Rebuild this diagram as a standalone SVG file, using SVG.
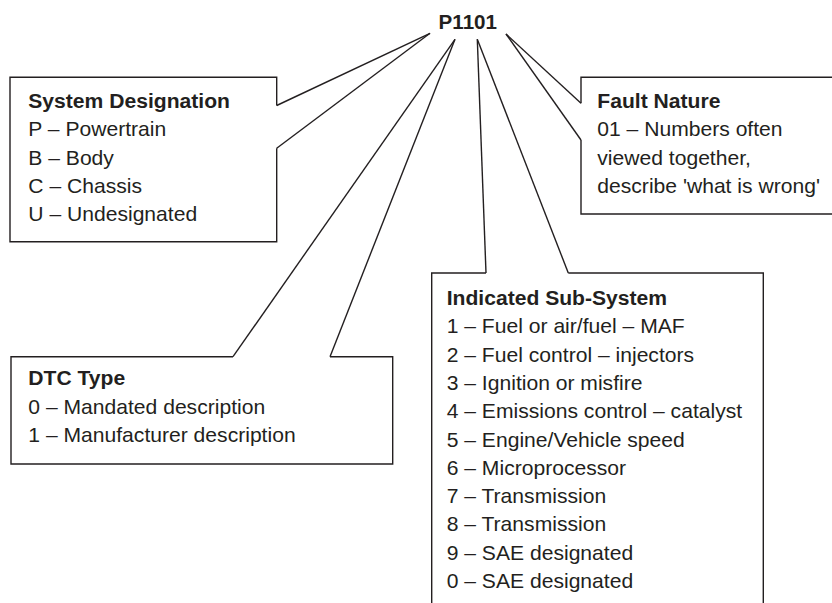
<svg xmlns="http://www.w3.org/2000/svg" width="832" height="603" viewBox="0 0 832 603">
<style>
.box{fill:none;stroke:#231f20;stroke-width:1.4;stroke-linejoin:miter}
.con line{stroke:#231f20;stroke-width:1.4}
text{font-family:"Liberation Sans",Arial,sans-serif;font-size:21.1px;fill:#231f20}
.h{font-weight:bold}
</style>
<rect width="832" height="603" fill="#ffffff"/>
<g id="connectors" class="con">
<line x1="430" y1="33.3" x2="276.7" y2="105.5"/>
<line x1="430" y1="33.3" x2="276.7" y2="148.3"/>
<line x1="455" y1="39.3" x2="233" y2="356.7"/>
<line x1="455" y1="39.3" x2="330" y2="356.7"/>
<line x1="477.3" y1="39.3" x2="486" y2="273"/>
<line x1="477.3" y1="39.3" x2="568.3" y2="273"/>
<line x1="506" y1="34" x2="581" y2="103.3"/>
<line x1="506" y1="34" x2="581" y2="140"/>
</g>
<g id="code">
<text class="h" x="467.8" y="28.5" text-anchor="middle" style="font-size:20.6px">P1101</text>
</g>
<g id="system-designation">
<path class="box" d="M276.7,105.5 L276.7,77.3 L10,77.3 L10,241.7 L276.7,241.7 L276.7,148.3"/>
<text class="h" x="28.3" y="108">System Designation</text>
<text x="28.3" y="136.3">P – Powertrain</text>
<text x="28.3" y="164.6">B – Body</text>
<text x="28.3" y="192.9">C – Chassis</text>
<text x="28.3" y="221.2">U – Undesignated</text>
</g>
<g id="fault-nature">
<path class="box" d="M581,103.3 L581,77.3 L840,77.3 M581,140 L581,214 L840,214"/>
<text class="h" x="597.3" y="108">Fault Nature</text>
<text x="597.3" y="136.3">01 – Numbers often</text>
<text x="597.3" y="164.6">viewed together,</text>
<text x="597.3" y="192.9">describe 'what is wrong'</text>
</g>
<g id="dtc-type">
<path class="box" d="M233,356.7 L11,356.7 L11,464 L392.7,464 L392.7,356.7 L330,356.7"/>
<text class="h" x="28.3" y="385.3">DTC Type</text>
<text x="28.3" y="413.6">0 – Mandated description</text>
<text x="28.3" y="441.9">1 – Manufacturer description</text>
</g>
<g id="indicated-sub-system">
<path class="box" d="M486,273 L431.7,273 L431.7,610 M763.3,610 L763.3,273 L568.3,273"/>
<text class="h" x="446.7" y="305">Indicated Sub-System</text>
<text x="446.7" y="333.3">1 – Fuel or air/fuel – MAF</text>
<text x="446.7" y="361.6">2 – Fuel control – injectors</text>
<text x="446.7" y="389.9">3 – Ignition or misfire</text>
<text x="446.7" y="418.2">4 – Emissions control – catalyst</text>
<text x="446.7" y="446.5">5 – Engine/Vehicle speed</text>
<text x="446.7" y="474.8">6 – Microprocessor</text>
<text x="446.7" y="503.1">7 – Transmission</text>
<text x="446.7" y="531.4">8 – Transmission</text>
<text x="446.7" y="559.7">9 – SAE designated</text>
<text x="446.7" y="588">0 – SAE designated</text>
</g>
</svg>
